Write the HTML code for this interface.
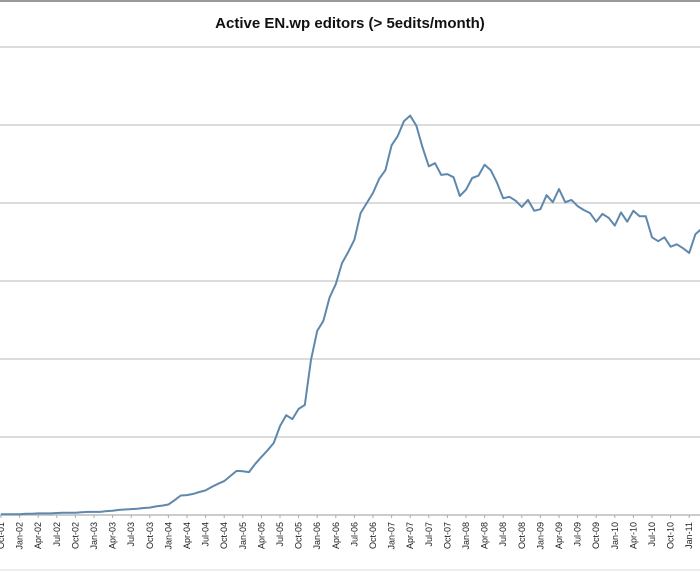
<!DOCTYPE html>
<html><head><meta charset="utf-8"><style>
body{margin:0;background:#fff;}
svg{display:block;font-family:"Liberation Sans",sans-serif;}
</style></head><body>
<svg id="chart" width="700" height="572" viewBox="0 0 700 572">
<line x1="0" y1="1" x2="700" y2="1" stroke="#999" stroke-width="2"/>
<text x="350" y="28" text-anchor="middle" font-size="15" font-weight="bold" fill="#111">Active EN.wp editors (&gt; 5edits/month)</text>
<g id="grid"></g>
<g id="xaxis"></g>
<path id="series" fill="none" stroke="#5f88ad" stroke-width="2" stroke-linejoin="round"/>
<line x1="0" y1="570" x2="700" y2="570" stroke="#ddd" stroke-width="1"/>
</svg>
<script>
const yTicks=[0,10,20,30,40,50,60];
const tickLabels=["Oct-01","Jan-02","Apr-02","Jul-02","Oct-02","Jan-03","Apr-03","Jul-03","Oct-03","Jan-04","Apr-04","Jul-04","Oct-04","Jan-05","Apr-05","Jul-05","Oct-05","Jan-06","Apr-06","Jul-06","Oct-06","Jan-07","Apr-07","Jul-07","Oct-07","Jan-08","Apr-08","Jul-08","Oct-08","Jan-09","Apr-09","Jul-09","Oct-09","Jan-10","Apr-10","Jul-10","Oct-10","Jan-11"];
const editors=[0.1,0.1,0.1,0.1,0.15,0.15,0.2,0.2,0.2,0.25,0.3,0.3,0.3,0.35,0.4,0.4,0.4,0.5,0.55,0.65,0.7,0.75,0.8,0.9,0.95,1.1,1.2,1.35,1.9,2.5,2.55,2.7,2.95,3.15,3.6,4.0,4.35,5.0,5.65,5.6,5.5,6.55,7.45,8.3,9.25,11.4,12.8,12.3,13.6,14.1,19.9,23.6,24.9,27.9,29.6,32.3,33.7,35.3,38.7,40.0,41.3,43.1,44.2,47.4,48.6,50.5,51.2,49.9,47.1,44.7,45.1,43.6,43.7,43.3,40.9,41.7,43.2,43.5,44.9,44.2,42.6,40.6,40.8,40.3,39.5,40.4,39.0,39.2,41.0,40.1,41.8,40.1,40.4,39.6,39.1,38.7,37.6,38.6,38.1,37.1,38.8,37.6,39.0,38.3,38.3,35.6,35.1,35.6,34.4,34.7,34.2,33.6,36.0,36.7];
const NS="http://www.w3.org/2000/svg";
const x=i=>1+6.2*i;
const y=v=>515-v*7.8;
const grid=document.getElementById('grid');
yTicks.forEach(t=>{
  const l=document.createElementNS(NS,'line');
  
  
  l.setAttribute('x1',0);l.setAttribute('x2',700);
  l.setAttribute('y1',y(t));l.setAttribute('y2',y(t));
  l.setAttribute('stroke',t===0?'#bbb':'#c8c8c8');l.setAttribute('stroke-width',t===0?1.5:1.3);
  grid.appendChild(l);
});
const xa=document.getElementById('xaxis');
tickLabels.forEach((lab,k)=>{
  const xi=x(k*3);
  const tk=document.createElementNS(NS,'line');
  
  
  tk.setAttribute('x1',xi);tk.setAttribute('x2',xi);tk.setAttribute('y1',515);tk.setAttribute('y2',518);
  tk.setAttribute('stroke','#aaa');
  xa.appendChild(tk);
  const t=document.createElementNS(NS,'text');
  
  
  t.setAttribute('transform','translate('+(xi+3)+',522) rotate(-90)');
  t.setAttribute('text-anchor','end');
  t.setAttribute('font-size','9');
  t.setAttribute('fill','#222');
  t.textContent=lab;
  xa.appendChild(t);
});
document.getElementById('series').setAttribute('d',editors.map((v,i)=>(i?'L':'M')+x(i).toFixed(1)+','+y(v).toFixed(1)).join(''));
</script>
</body></html>
